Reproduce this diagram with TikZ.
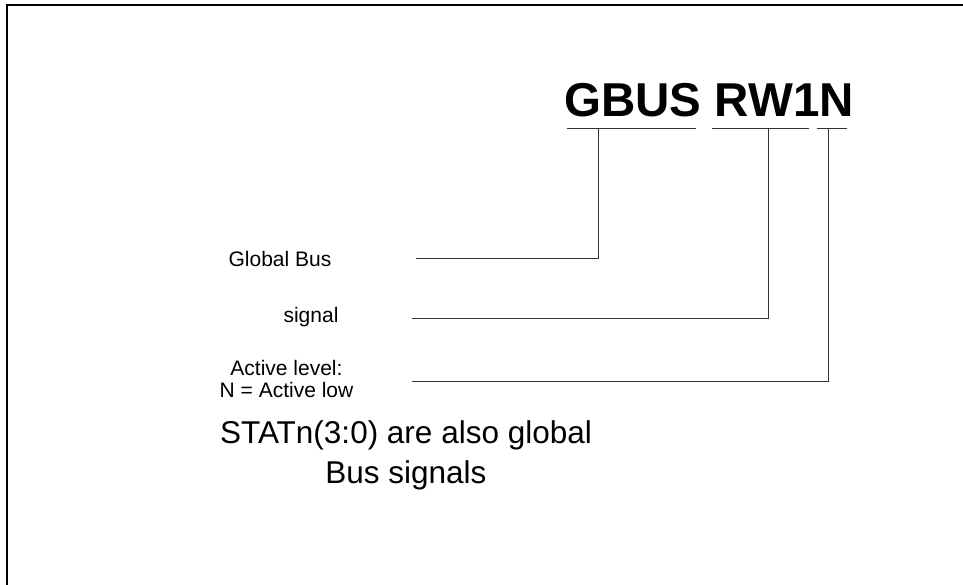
\documentclass[tikz,border=0pt]{standalone}
\usepackage{fontspec}
\setmainfont{Liberation Sans}
\begin{document}
\begin{tikzpicture}[x=1pt,y=-1pt,
  frame/.style={line width=2pt,black},
  lead/.style={line width=1pt,black!80},
  title/.style={font=\fontsize{47.5}{57}\selectfont\bfseries,inner sep=0pt,anchor=base},
  lbl/.style={font=\fontsize{21}{22}\selectfont,inner sep=0pt,anchor=base,align=center},
  note/.style={font=\fontsize{31.5}{40}\selectfont,inner sep=0pt,anchor=base,align=center}]
\useasboundingbox (0,0) rectangle (963,585);
% frame (open at right and bottom)
\coordinate (fbl) at (7,585);
\coordinate (ftl) at (7,5);
\coordinate (ftr) at (963,5);
\draw[frame] (fbl) -- (ftl) -- (ftr);
% title
\node[title] (ttl) at (709,117) {GBUS RW1N};
% underlines
\coordinate (u1a) at (567,129); \coordinate (u1b) at (696,129);
\coordinate (u2a) at (712,129); \coordinate (u2b) at (809,129);
\coordinate (u3a) at (817,129); \coordinate (u3b) at (847,129);
\draw[lead] (u1a) -- (u1b);
\draw[lead] (u2a) -- (u2b);
\draw[lead] (u3a) -- (u3b);
\coordinate (t1) at (598,129);
\coordinate (t2) at (768,129);
\coordinate (t3) at (828,129);
% labels
\node[lbl] (gb) at (280,266) {Global Bus};
\node[lbl] (sg) at (311,322) {signal};
\node[lbl] (al) at (286.5,397) {Active level:\\N = Active low};
\node[note] (st) at (406,483) {STATn(3:0) are also global\\Bus signals};
% leaders
\coordinate (l1) at (416,259);
\coordinate (l2) at (412,318);
\coordinate (l3) at (412,381);
\draw[lead] (l1) -| (t1);
\draw[lead] (l2) -| (t2);
\draw[lead] (l3) -| (t3);
\end{tikzpicture}
\end{document}
